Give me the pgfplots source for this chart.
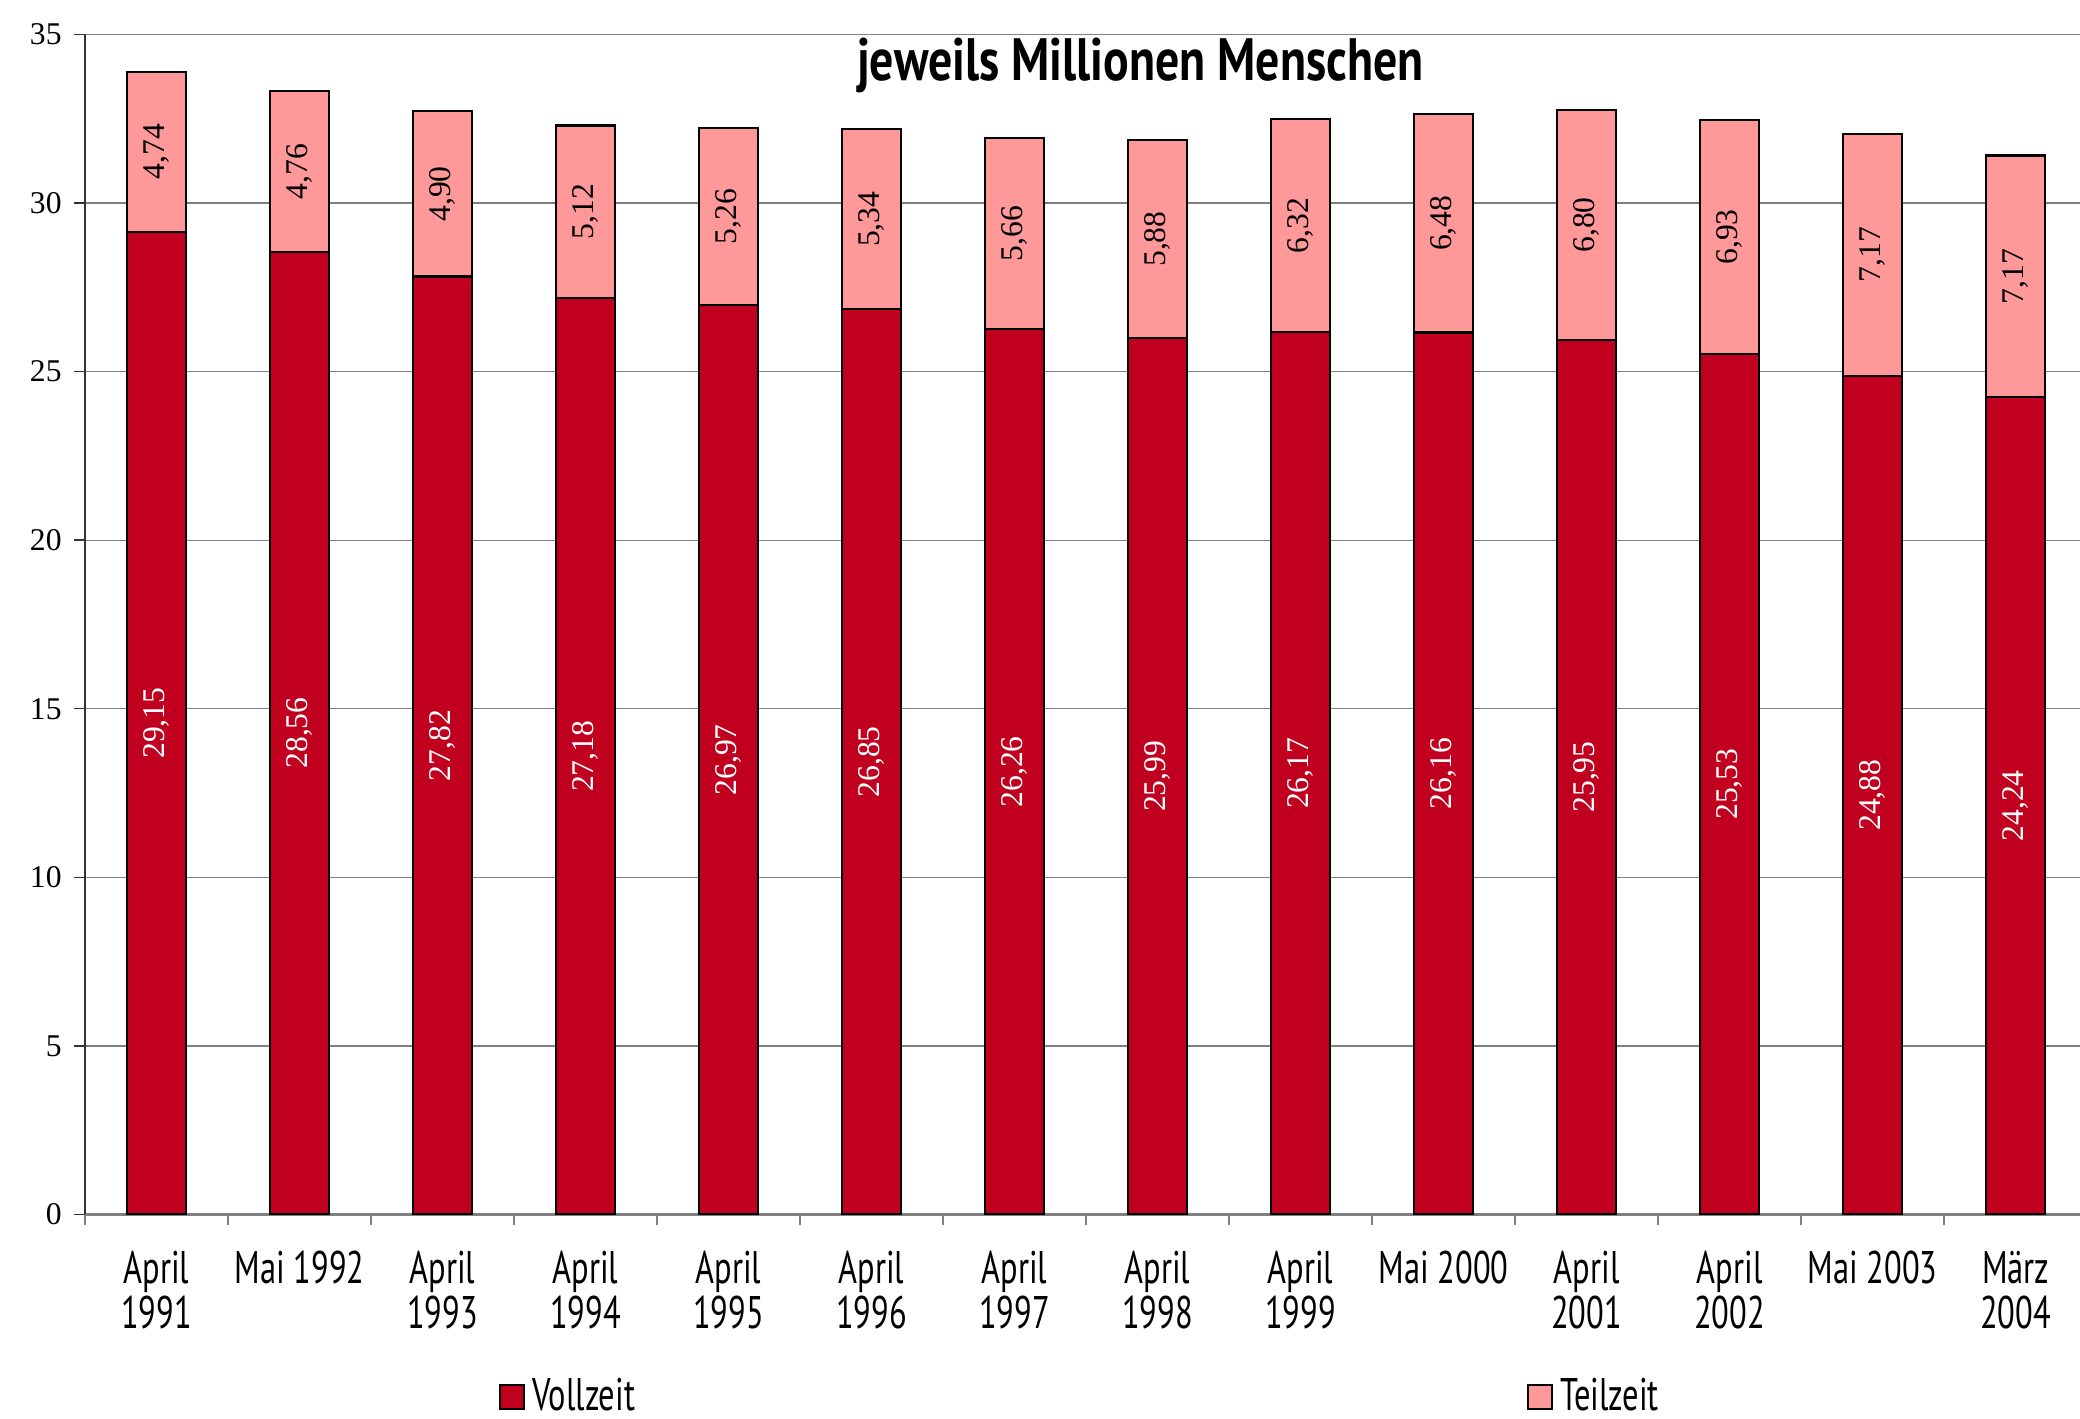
\documentclass[border=0pt]{standalone}
\usepackage{pgfplots}
\usepackage{pgfplotstable}
\pgfplotsset{compat=1.18}
\usepackage{fontspec}
\setmainfont{Liberation Serif}
\newfontfamily\condfont[FakeStretch=0.71]{PT Sans}
\newfontfamily\titlefont[FakeStretch=0.80]{PT Sans}
\definecolor{voll}{RGB}{192,0,30}
\definecolor{teil}{RGB}{255,153,153}
\definecolor{gridgray}{RGB}{128,128,128}
\pgfplotsset{
  boxlegend/.style={legend image code/.code={\draw[##1,draw=black,line width=0.6pt] (0cm,-0.12cm) rectangle (0.24cm,0.12cm);}}
}
\pgfplotstableread{
x voll teil
0 29.15 4.74
1 28.56 4.76
2 27.82 4.90
3 27.18 5.12
4 26.97 5.26
5 26.85 5.34
6 26.26 5.66
7 25.99 5.88
8 26.17 6.32
9 26.16 6.48
10 25.95 6.80
11 25.53 6.93
12 24.88 7.17
13 24.24 7.17
}\datatable
\begin{document}
\begin{tikzpicture}
\useasboundingbox (-0.85cm,-2.04cm) rectangle (19.95cm,12.145cm);
\begin{axis}[
  scale only axis, width=19.95cm, height=11.8cm,
  ybar stacked, bar width=0.585cm,
  xmin=-0.5, xmax=13.45, ymin=0, ymax=35,
  ytick={0,5,...,35},
  xtick={-0.5,0.5,...,12.5}, xticklabels={},
  extra x ticks={0,1,...,13},
  extra x tick labels={{April\\1991},{Mai 1992},{April\\1993},{April\\1994},{April\\1995},{April\\1996},{April\\1997},{April\\1998},{April\\1999},{Mai 2000},{April\\2001},{April\\2002},{Mai 2003},{März\\2004}},
  extra x tick style={major tick length=0pt, grid=none},
  xticklabel style={align=center, font=\condfont\fontsize{13}{12.8}\selectfont, yshift=-0.24cm},
  yticklabel style={font=\fontsize{9}{10}\selectfont},
  /pgf/number format/assume math mode=true,
  tick align=outside, major tick length=0.11cm,
  x tick style={draw=gridgray, line width=0.4pt},
  y tick style={draw=black!80, line width=0.4pt},
  axis x line*=bottom, axis y line*=left,
  x axis line style={gridgray, line width=0.6pt},
  y axis line style={black!80, line width=0.6pt},
  ymajorgrids, major grid style={gridgray, line width=0.35pt},
  legend columns=2,
  legend style={draw=none, fill=none, at={(0.5,-0.155)}, anchor=center,
    font=\condfont\fontsize{13}{14}\selectfont,
    /tikz/every even column/.append style={column sep=8.85cm},
    /tikz/every odd column/.append style={column sep=0.0cm}},
]
\addplot[fill=voll, draw=black, line width=0.6pt, boxlegend] table[x=x, y=voll] {\datatable};
\addlegendentry{Vollzeit}
\addplot[fill=teil, draw=black, line width=0.6pt, boxlegend] table[x=x, y=teil] {\datatable};
\addlegendentry{Teilzeit}
\node[font=\titlefont\bfseries\fontsize{17}{19}\selectfont] at (rel axis cs:0.529,0.974) {jeweils Millionen Menschen};
\end{axis}
\begin{axis}[
  scale only axis, width=19.95cm, height=11.8cm,
  xmin=-0.5, xmax=13.45, ymin=0, ymax=35,
  hide axis,
  /pgf/number format/assume math mode=true,
  nodes near coords={\pgfmathprintnumber[fixed,fixed zerofill,precision=2,use comma,assume math mode=true]{\pgfplotspointmeta}},
  every node near coord/.style={rotate=90, anchor=center, inner sep=0pt, font=\fontsize{9}{10}\selectfont},
  point meta=explicit,
]
\addplot[draw=none, mark=none, every node near coord/.append style={text=white}]
  table[x=x, y expr=\thisrow{voll}/2, meta=voll] {\datatable};
\addplot[draw=none, mark=none, every node near coord/.append style={text=black}]
  table[x=x, y expr=\thisrow{voll}+\thisrow{teil}/2, meta=teil] {\datatable};
\end{axis}
\end{tikzpicture}
\end{document}
